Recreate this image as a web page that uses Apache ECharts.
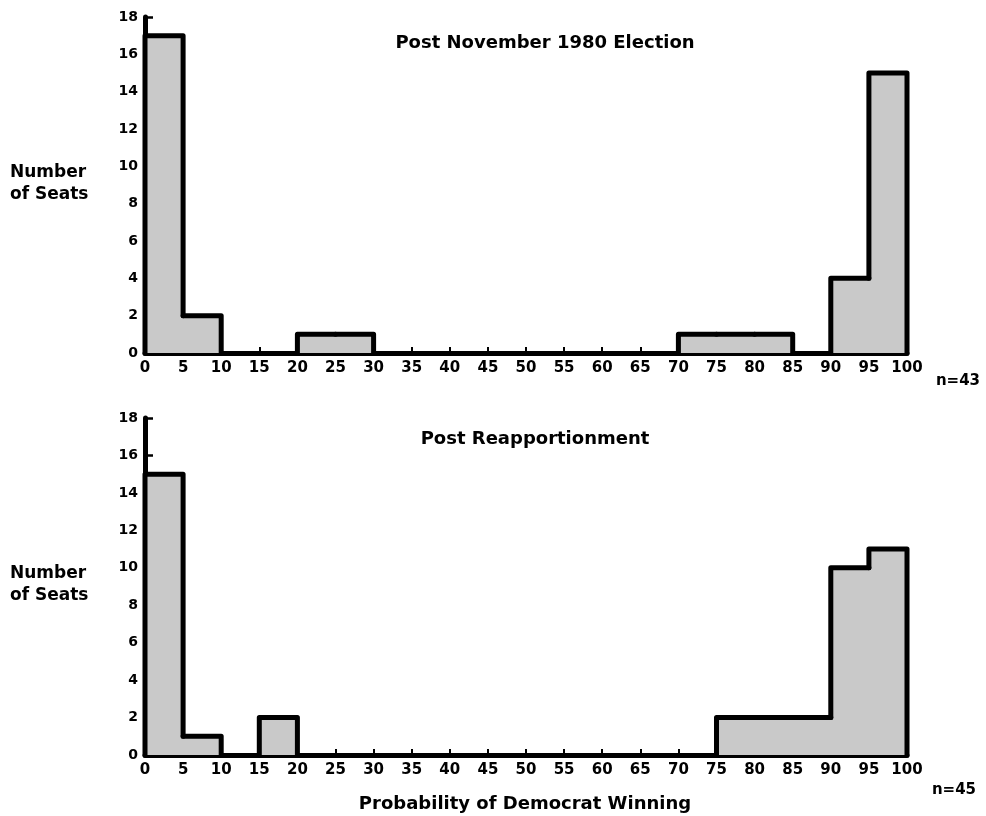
<!DOCTYPE html>
<html>
<head>
<meta charset="utf-8">
<script src="https://cdn.jsdelivr.net/npm/echarts@6/dist/echarts.min.js"></script>
<style>html,body{margin:0;padding:0;background:#fff}#c{width:986px;height:816px}</style>
</head>
<body>
<div id="c"></div>
<script>
// Data
const binStarts = [0,5,10,15,20,25,30,35,40,45,50,55,60,65,70,75,80,85,90,95];
const binWidth = 5;
const postElection = [17,2,0,0,1,1,0,0,0,0,0,0,0,0,1,1,1,0,4,15];
const postReapportionment = [15,1,0,2,0,0,0,0,0,0,0,0,0,0,0,2,2,2,10,11];
const xTicks = [0,100,5];
const yTicks = [0,18,2];
const titles = ['Post November 1980 Election','Post Reapportionment'];
const yName = 'Number\nof Seats';
const xName = 'Probability of Democrat Winning';
const nLabels = ['n=43','n=45'];

const FONT = '"DejaVu Sans", sans-serif';
const chart = echarts.init(document.getElementById('c'), null, {renderer:'canvas'});

function bins(counts){
  return binStarts.map((s,i)=>[s, s+binWidth, counts[i],
    i>0 ? counts[i-1] : 0, i<counts.length-1 ? counts[i+1] : 0]);
}

function renderItem(params, api){
  const v = api.value(2);
  if (!v) return null;
  const x0 = api.value(0), x1 = api.value(1), vp = api.value(3), vn = api.value(4);
  const tl = api.coord([x0, v]);
  const br = api.coord([x1, 0]);
  const lineStyle = {stroke:'#000', lineWidth:5, lineCap:'round', lineJoin:'round', fill:null};
  const children = [{
    type:'rect',
    shape:{x:Math.floor(tl[0]), y:tl[1], width:Math.ceil(br[0]-tl[0])+1, height:br[1]-tl[1]},
    style:{fill:'#c9c9c9'}
  }];
  const pts = [];
  if (v > vp) pts.push(api.coord([x0, vp]));
  pts.push(tl);
  pts.push(api.coord([x1, v]));
  if (v > vn) pts.push(api.coord([x1, vn]));
  children.push({type:'polyline', shape:{points:pts}, style:lineStyle, z2:2});
  return {type:'group', children};
}

function xAxis(gi){
  return {
    type:'value', gridIndex:gi, min:xTicks[0], max:xTicks[1], interval:xTicks[2],
    axisLine:{show:true, lineStyle:{color:'#000', width:5}},
    axisTick:{show:true, inside:true, length:6, lineStyle:{color:'#000', width:2}},
    axisLabel:{color:'#000', fontFamily:FONT, fontWeight:'bold', fontSize:15, margin:8},
    splitLine:{show:false}
  };
}
function yAxis(gi){
  return {
    type:'value', gridIndex:gi, min:yTicks[0], max:yTicks[1], interval:yTicks[2],
    axisLine:{show:true, lineStyle:{color:'#000', width:5}},
    axisTick:{show:true, inside:true, length:8, lineStyle:{color:'#000', width:2.5}},
    axisLabel:{color:'#000', fontFamily:FONT, fontWeight:'bold', fontSize:14, margin:7},
    splitLine:{show:false}
  };
}

const txt = (x,y,text,size,align) => ({
  type:'text', x:x, y:y,
  style:{text:text, fill:'#000', font:'bold '+size+'px '+FONT, textAlign:align||'left',
         textVerticalAlign:'middle', lineHeight:size+5}
});

chart.setOption({
  animation:false,
  backgroundColor:'#fff',
  grid:[
    {left:145, right:79, top:17, height:336},
    {left:145, right:79, top:418, height:337}
  ],
  xAxis:[xAxis(0), xAxis(1)],
  yAxis:[yAxis(0), yAxis(1)],
  graphic:[
    txt(545,43,titles[0],18,'center'),
    txt(535,439,titles[1],18,'center'),
    txt(10,184,yName,17),
    txt(10,585,yName,17),
    txt(958,381,nLabels[0],15,'center'),
    txt(954,790,nLabels[1],15,'center'),
    txt(525,804,xName,18,'center')
  ],
  series:[
    {type:'custom', xAxisIndex:0, yAxisIndex:0, renderItem, data:bins(postElection), encode:{x:[0,1], y:2}},
    {type:'custom', xAxisIndex:1, yAxisIndex:1, renderItem, data:bins(postReapportionment), encode:{x:[0,1], y:2}}
  ]
});
</script>
</body>
</html>
